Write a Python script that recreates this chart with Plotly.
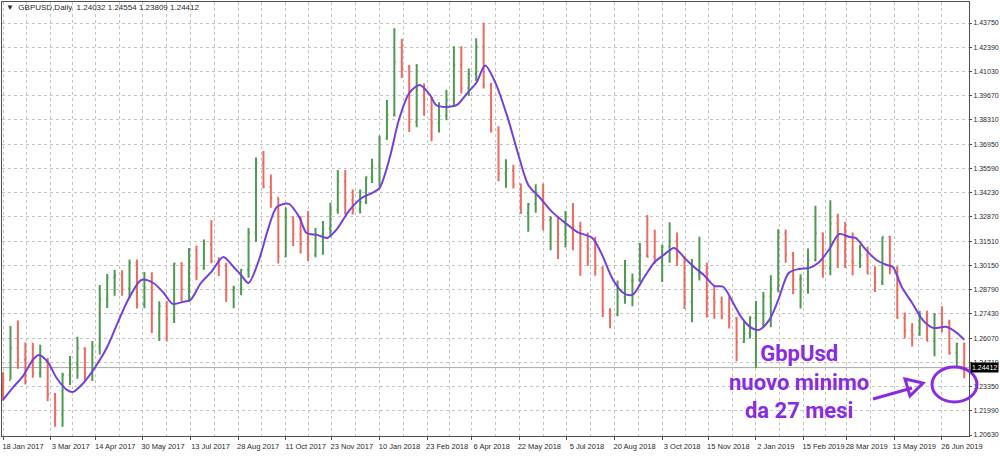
import numpy as np
import pandas as pd
import plotly.graph_objects as go

# ---------------- data (weekly OHLC) ----------------
first_week_mid = "2017-01-18"   # Wednesday of the first visible week

week_open = [1.2400, 1.2370, 1.2550, 1.2485, 1.2485, 1.2410, 1.2470, 1.2290, 1.2180, 1.2400,
             1.2460, 1.2550, 1.2410, 1.2560, 1.2825, 1.2945, 1.2960, 1.2885, 1.3030, 1.2795,
             1.2890, 1.2745, 1.2785, 1.2715, 1.3025, 1.2885, 1.3100, 1.3000, 1.3135, 1.3040,
             1.3010, 1.2875, 1.2885, 1.2990, 1.3200, 1.3590, 1.3455, 1.3395, 1.3065, 1.3285,
             1.3190, 1.3135, 1.3075, 1.3190, 1.3220, 1.3325, 1.3485, 1.3380, 1.3330, 1.3370,
             1.3510, 1.3570, 1.3725, 1.3860, 1.4155, 1.4130, 1.3820, 1.4000, 1.3945, 1.3815,
             1.3855, 1.3945, 1.4140, 1.4010, 1.4090, 1.4245, 1.4025, 1.3775, 1.3530, 1.3545,
             1.3470, 1.3310, 1.3360, 1.3420, 1.3270, 1.3280, 1.3190, 1.3285, 1.3235, 1.3125,
             1.3110, 1.3000, 1.2760, 1.2740, 1.2840, 1.2930, 1.2930, 1.3070, 1.3065, 1.3035,
             1.3120, 1.3150, 1.3060, 1.2810, 1.2970, 1.2975, 1.2830, 1.2810, 1.2730, 1.2720,
             1.2585, 1.2635, 1.2720, 1.2745, 1.2840, 1.2885, 1.3195, 1.3075, 1.2935, 1.2940,
             1.3045, 1.3195, 1.3000, 1.3250, 1.3210, 1.3040, 1.3030, 1.3070, 1.2970, 1.2920,
             1.3175, 1.3000, 1.2720, 1.2650, 1.2625, 1.2740, 1.2590, 1.2740, 1.2695, 1.2525,
             1.2575]
week_high = [1.2415, 1.2674, 1.2706, 1.2582, 1.2580, 1.2570, 1.2495, 1.2299, 1.2413, 1.2507,
             1.2615, 1.2555, 1.2590, 1.2905, 1.2967, 1.2990, 1.2988, 1.3048, 1.3048, 1.2978,
             1.2977, 1.2813, 1.2815, 1.3029, 1.3032, 1.3113, 1.3126, 1.3160, 1.3268, 1.3060,
             1.3030, 1.2900, 1.2995, 1.3225, 1.3620, 1.3657, 1.3525, 1.3395, 1.3340, 1.3290,
             1.3290, 1.3320, 1.3225, 1.3264, 1.3366, 1.3550, 1.3550, 1.3440, 1.3440, 1.3514,
             1.3613, 1.3744, 1.3943, 1.4345, 1.4285, 1.4140, 1.4145, 1.4036, 1.3960, 1.3930,
             1.4000, 1.4245, 1.4245, 1.4120, 1.4290, 1.4377, 1.4040, 1.3795, 1.3610, 1.3580,
             1.3475, 1.3365, 1.3470, 1.3475, 1.3290, 1.3290, 1.3320, 1.3365, 1.3260, 1.3200,
             1.3175, 1.3010, 1.2775, 1.2930, 1.3045, 1.2970, 1.3140, 1.3297, 1.3215, 1.3130,
             1.3257, 1.3200, 1.3065, 1.3050, 1.3175, 1.3030, 1.2900, 1.2840, 1.2840, 1.2725,
             1.2700, 1.2730, 1.2815, 1.2865, 1.2960, 1.3218, 1.3216, 1.3090, 1.2965, 1.3110,
             1.3350, 1.3200, 1.3380, 1.3305, 1.3260, 1.3200, 1.3130, 1.3120, 1.3010, 1.3176,
             1.3180, 1.3010, 1.2750, 1.2690, 1.2760, 1.2760, 1.2745, 1.2785, 1.2710, 1.2580,
             1.2580]
week_low = [1.2255, 1.2375, 1.2435, 1.2346, 1.2384, 1.2385, 1.2253, 1.2109, 1.2109, 1.2344,
            1.2378, 1.2365, 1.2366, 1.2515, 1.2776, 1.2844, 1.2845, 1.2830, 1.2773, 1.2774,
            1.2635, 1.2591, 1.2588, 1.2692, 1.2812, 1.2810, 1.2932, 1.2990, 1.3027, 1.2955,
            1.2810, 1.2774, 1.2847, 1.2946, 1.3148, 1.3448, 1.3338, 1.3026, 1.3062, 1.3123,
            1.3082, 1.3039, 1.3061, 1.3075, 1.3180, 1.3305, 1.3300, 1.3300, 1.3306, 1.3360,
            1.3477, 1.3458, 1.3720, 1.3851, 1.4066, 1.3764, 1.3790, 1.3855, 1.3711, 1.3760,
            1.3829, 1.3910, 1.3980, 1.3965, 1.4050, 1.4008, 1.3760, 1.3487, 1.3450, 1.3447,
            1.3305, 1.3204, 1.3310, 1.3210, 1.3100, 1.3050, 1.3115, 1.3100, 1.2957, 1.3013,
            1.2956, 1.2725, 1.2662, 1.2730, 1.2800, 1.2785, 1.2920, 1.3057, 1.3025, 1.2922,
            1.3030, 1.3012, 1.2770, 1.2696, 1.2930, 1.2723, 1.2715, 1.2712, 1.2660, 1.2477,
            1.2580, 1.2605, 1.2440, 1.2670, 1.2668, 1.2864, 1.3030, 1.2853, 1.2773, 1.2855,
            1.3036, 1.2946, 1.2960, 1.3000, 1.3000, 1.2960, 1.3000, 1.2965, 1.2866, 1.2905,
            1.2965, 1.2717, 1.2605, 1.2560, 1.2620, 1.2590, 1.2505, 1.2640, 1.2513, 1.2439,
            1.2381]
week_close = [1.2370, 1.2550, 1.2485, 1.2485, 1.2410, 1.2470, 1.2290, 1.2180, 1.2400, 1.2460,
              1.2550, 1.2410, 1.2560, 1.2825, 1.2945, 1.2960, 1.2885, 1.3030, 1.2795, 1.2890,
              1.2745, 1.2785, 1.2715, 1.3025, 1.2885, 1.3100, 1.3000, 1.3135, 1.3040, 1.3010,
              1.2875, 1.2885, 1.2990, 1.3200, 1.3590, 1.3455, 1.3395, 1.3065, 1.3285, 1.3190,
              1.3135, 1.3075, 1.3190, 1.3220, 1.3325, 1.3485, 1.3380, 1.3330, 1.3370, 1.3510,
              1.3570, 1.3725, 1.3860, 1.4155, 1.4130, 1.3820, 1.4000, 1.3945, 1.3815, 1.3855,
              1.3945, 1.4140, 1.4010, 1.4090, 1.4245, 1.4025, 1.3775, 1.3530, 1.3545, 1.3470,
              1.3310, 1.3360, 1.3420, 1.3270, 1.3280, 1.3190, 1.3285, 1.3235, 1.3125, 1.3110,
              1.3000, 1.2760, 1.2740, 1.2840, 1.2930, 1.2930, 1.3070, 1.3065, 1.3035, 1.3120,
              1.3150, 1.3060, 1.2810, 1.2970, 1.2975, 1.2830, 1.2810, 1.2730, 1.2720, 1.2585,
              1.2635, 1.2720, 1.2745, 1.2840, 1.2885, 1.3195, 1.3075, 1.2935, 1.2940, 1.3045,
              1.3195, 1.3000, 1.3250, 1.3210, 1.3040, 1.3030, 1.3070, 1.2970, 1.2920, 1.3175,
              1.3000, 1.2720, 1.2650, 1.2625, 1.2740, 1.2590, 1.2740, 1.2695, 1.2525, 1.2575,
              1.2441]

# moving average readings
ma_dates = ["2017-01-18", "2017-01-27", "2017-02-06", "2017-02-15", "2017-02-21", "2017-03-01",
            "2017-03-09", "2017-03-20", "2017-03-24", "2017-04-04", "2017-04-14", "2017-04-26",
            "2017-05-05", "2017-05-16", "2017-05-29", "2017-06-08", "2017-06-19", "2017-06-27",
            "2017-07-06", "2017-07-13", "2017-07-24", "2017-08-02", "2017-08-14", "2017-08-23",
            "2017-08-30", "2017-09-06", "2017-09-15", "2017-09-25", "2017-10-03", "2017-10-13",
            "2017-10-24", "2017-10-31", "2017-11-09", "2017-11-20", "2017-11-28", "2017-12-11",
            "2017-12-21", "2018-01-03", "2018-01-10", "2018-01-19", "2018-01-29", "2018-02-07",
            "2018-02-16", "2018-02-27", "2018-03-05", "2018-03-14", "2018-03-23", "2018-04-03",
            "2018-04-11", "2018-04-19", "2018-04-30", "2018-05-10", "2018-05-21", "2018-05-30",
            "2018-06-11", "2018-06-21", "2018-07-03", "2018-07-16", "2018-07-30", "2018-08-07",
            "2018-08-17", "2018-08-28", "2018-09-05", "2018-09-17", "2018-09-26", "2018-10-04",
            "2018-10-15", "2018-10-24", "2018-11-02", "2018-11-12", "2018-11-21", "2018-11-29",
            "2018-12-10", "2018-12-17", "2018-12-26", "2019-01-04", "2019-01-15", "2019-01-23",
            "2019-02-01", "2019-02-12", "2019-02-21", "2019-03-01", "2019-03-12", "2019-03-21",
            "2019-04-01", "2019-04-05", "2019-04-16", "2019-04-25", "2019-05-06", "2019-05-10",
            "2019-05-20", "2019-05-29", "2019-06-07", "2019-06-18", "2019-07-01", "2019-07-10",
            "2019-07-17"]
ma_values = [1.2260, 1.2333, 1.2389, 1.2484, 1.2512, 1.2473,
             1.2383, 1.2316, 1.2305, 1.2355, 1.2445, 1.2557,
             1.2692, 1.2821, 1.2933, 1.2916, 1.2860, 1.2799,
             1.2810, 1.2821, 1.2916, 1.2978, 1.3062, 1.3006,
             1.2960, 1.2916, 1.3045, 1.3214, 1.3343, 1.3360,
             1.3287, 1.3197, 1.3186, 1.3169, 1.3214, 1.3326,
             1.3393, 1.3421, 1.3449, 1.3623, 1.3831, 1.3982,
             1.4027, 1.3971, 1.3915, 1.3904, 1.3915, 1.3982,
             1.4038, 1.4136, 1.4038, 1.3848, 1.3646, 1.3466,
             1.3393, 1.3315, 1.3259, 1.3202, 1.3169, 1.3085,
             1.2933, 1.2860, 1.2849, 1.2950, 1.3034, 1.3073,
             1.3113, 1.3057, 1.3001, 1.2961, 1.2900, 1.2895,
             1.2800, 1.2726, 1.2670, 1.2653, 1.2709, 1.2821,
             1.2972, 1.2995, 1.3001, 1.3029, 1.3102, 1.3191,
             1.3174, 1.3169, 1.3102, 1.3045, 1.3017, 1.3006,
             1.2894, 1.2804, 1.2709, 1.2664, 1.2670, 1.2636,
             1.2597]

# axis labels
tick_dates = ["2017-01-18", "2017-03-03", "2017-04-14", "2017-05-30", "2017-07-13", "2017-08-28",
              "2017-10-11", "2017-11-23", "2018-01-10", "2018-02-23", "2018-04-06", "2018-05-22",
              "2018-07-05", "2018-08-20", "2018-10-03", "2018-11-15", "2019-01-02", "2019-02-15",
              "2019-03-28", "2019-05-13", "2019-06-26"]
tick_labels = ["18 Jan 2017", "3 Mar 2017", "14 Apr 2017", "30 May 2017", "13 Jul 2017", "28 Aug 2017",
               "11 Oct 2017", "23 Nov 2017", "10 Jan 2018", "23 Feb 2018", "6 Apr 2018", "22 May 2018",
               "5 Jul 2018", "20 Aug 2018", "3 Oct 2018", "15 Nov 2018", "2 Jan 2019", "15 Feb 2019",
               "28 Mar 2019", "13 May 2019", "26 Jun 2019"]
price_labels = ["1.20630", "1.21990", "1.23350", "1.24710", "1.26070", "1.27430", "1.28790",
                "1.30150", "1.31510", "1.32870", "1.34230", "1.35590", "1.36950", "1.38310",
                "1.39670", "1.41030", "1.42390", "1.43750"]
last_price = 1.24412
header_text = "▼  GBPUSD,Daily  1.24032 1.24554 1.23809 1.24412"
note_lines = ["GbpUsd", "nuovo minimo", "da 27 mesi"]

# ---------------- helpers ----------------
ORIGIN = np.datetime64(first_week_mid)
HOLIDAYS = ["2017-12-25", "2018-01-01", "2018-12-25", "2019-01-01"]


def bar_index(dates):
    d = pd.to_datetime(pd.Index(dates)).values.astype("datetime64[D]")
    return np.busday_count(ORIGIN, d, holidays=HOLIDAYS)


week_mid = pd.date_range(first_week_mid, periods=len(week_close), freq="7D")
x_week = bar_index(week_mid)
x_ma = bar_index(ma_dates)
x_ticks = bar_index(tick_dates)
x_minor = (x_ticks[:-1] + x_ticks[1:]) / 2.0
price_vals = [float(s) for s in price_labels]

W, H = 1000, 456
ML, MR, MT, MB = 2, 31, 2, 20
PW, PH = W - ML - MR, H - MT - MB


def px(xp):
    return (xp - ML) / PW


def py(yp):
    return (H - MB - yp) / PH


TXT = "#2a2a2a"
GRID = "#c4c4c4"
PURPLE = "#8a2be2"
FONT_SMALL = "Liberation Sans, Arial, sans-serif"
FS = 7.5
FSY = 7

fig = go.Figure()
fig.add_trace(go.Ohlc(
    x=x_week, open=week_open, high=week_high, low=week_low, close=week_close,
    increasing=dict(line=dict(color="#4e9a52", width=2)),
    decreasing=dict(line=dict(color="#ec6a60", width=2)),
    tickwidth=0.22, hoverinfo="skip", showlegend=False,
))
fig.add_trace(go.Scatter(
    x=x_ma, y=ma_values, mode="lines",
    line=dict(color="#7440dc", width=2, shape="spline", smoothing=0.8),
    hoverinfo="skip", showlegend=False,
))

# current price line
fig.add_shape(type="line", xref="paper", yref="y", x0=0, x1=1, y0=last_price, y1=last_price,
              line=dict(color="#a8a8a8", width=1), layer="below")

# ellipse + arrow (hand drawn annotation)
fig.add_shape(type="circle", xref="paper", yref="paper",
              x0=px(932), x1=px(977), y0=py(402), y1=py(367),
              line=dict(color=PURPLE, width=3))
fig.add_shape(type="path", xref="paper", yref="paper",
              path=f"M {px(873)},{py(399)} L {px(912)},{py(388)}",
              line=dict(color=PURPLE, width=3))
fig.add_shape(type="path", xref="paper", yref="paper",
              path=f"M {px(905)},{py(379)} L {px(923)},{py(383)} L {px(910)},{py(396)} Z",
              line=dict(color=PURPLE, width=3))

annos = [dict(text="<b>" + "<br>".join(note_lines) + "</b>", xref="paper", yref="paper",
              x=px(799), y=py(382), xanchor="center", yanchor="middle", align="center",
              showarrow=False,
              font=dict(family="Roboto, Lato, sans-serif", size=22, color=PURPLE))]
annos.append(dict(text=header_text, xref="paper", yref="paper", x=px(4), y=py(7),
                  xanchor="left", yanchor="middle", showarrow=False,
                  font=dict(family=FONT_SMALL, size=8, color=TXT)))
annos.append(dict(text=f"{last_price:.5f}", xref="paper", yref="y", x=1.0, xshift=1,
                  y=last_price, xanchor="left", yanchor="middle", showarrow=False,
                  bgcolor="#000000", borderpad=1,
                  font=dict(family=FONT_SMALL, size=FSY, color="#ffffff")))

fig.update_layout(
    width=W, height=H,
    margin=dict(l=ML, r=MR, t=MT, b=MB, pad=0, autoexpand=False),
    paper_bgcolor="#ffffff", plot_bgcolor="#ffffff",
    annotations=annos, hovermode=False,
    xaxis=dict(
        range=[-0.7, 649.2], rangeslider=dict(visible=False), automargin=False,
        tickmode="array", tickvals=x_ticks, ticktext=tick_labels, tickangle=0,
        ticks="outside", ticklen=3, tickcolor="#505050", ticklabelshift=20,
        ticklabeloverflow="allow",
        tickfont=dict(family=FONT_SMALL, size=FS, color=TXT),
        showgrid=True, gridcolor=GRID, griddash="dot", gridwidth=1,
        minor=dict(tickmode="array", tickvals=x_minor, showgrid=True,
                   gridcolor=GRID, griddash="dot", ticks=""),
        showline=True, linecolor="#505050", linewidth=1, mirror=True, zeroline=False,
    ),
    yaxis=dict(
        side="right", range=[1.20574, 1.44929], automargin=False,
        tickmode="array", tickvals=price_vals, ticktext=price_labels,
        ticks="outside", ticklen=2, tickcolor="#505050", ticklabelstandoff=0,
        ticklabeloverflow="allow",
        tickfont=dict(family=FONT_SMALL, size=FSY, color=TXT),
        showgrid=True, gridcolor=GRID, griddash="dot", gridwidth=1,
        showline=True, linecolor="#505050", linewidth=1, mirror=True, zeroline=False,
    ),
)

fig.write_html("out.html", config={"displayModeBar": False},
               post_script="document.body.style.margin='0';document.body.style.overflow='hidden';")
